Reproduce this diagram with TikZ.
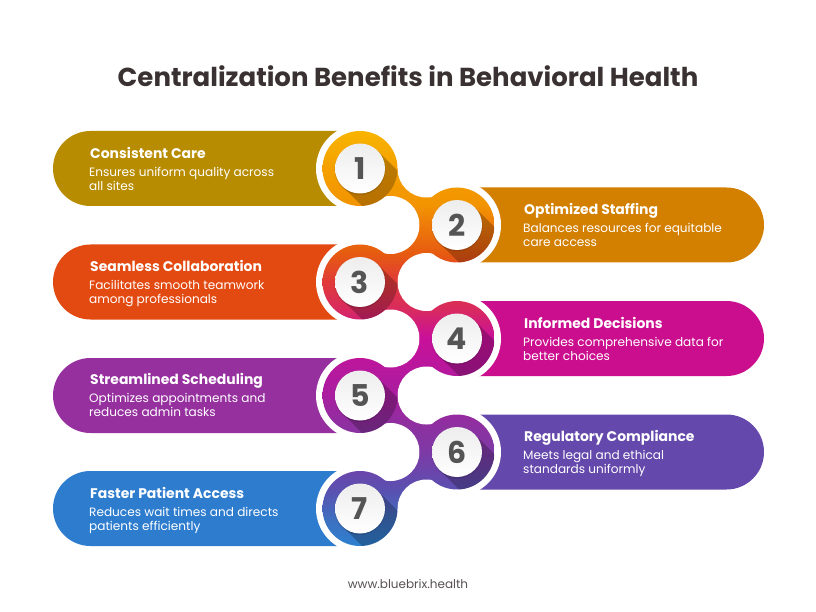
\documentclass[tikz,border=0pt]{standalone}
\usepackage{fontspec}
\setmainfont{Poppins}
\usetikzlibrary{calc}
\definecolor{c1}{HTML}{B88C00}
\definecolor{c2}{HTML}{D38000}
\definecolor{c3}{HTML}{E34A12}
\definecolor{c4}{HTML}{CB0E8E}
\definecolor{c5}{HTML}{96309F}
\definecolor{c6}{HTML}{6448AB}
\definecolor{c7}{HTML}{2D7CCE}
\definecolor{ttl}{HTML}{3A3232}
\definecolor{dgt}{HTML}{555555}
\definecolor{sa}{HTML}{F8B400}
\definecolor{sb}{HTML}{F5A000}
\definecolor{sc}{HTML}{F29400}
\definecolor{sd}{HTML}{EE7B0A}
\definecolor{se}{HTML}{E65A10}
\definecolor{sf}{HTML}{E03A3A}
\definecolor{sg}{HTML}{D82A60}
\definecolor{sh}{HTML}{C9109A}
\definecolor{si}{HTML}{A91E9F}
\definecolor{sj}{HTML}{8E30A0}
\definecolor{sk}{HTML}{7D3AA6}
\definecolor{sl}{HTML}{5A50B0}
\definecolor{sm}{HTML}{3E70C0}
\definecolor{sn}{HTML}{2D80CF}
% TikZ maps a path's bounding box to the middle half of the shading, so the stops span 25bp..75bp
\pgfdeclareverticalshading{chainshade}{100bp}{
 color(0bp)=(sn);
 color(25bp)=(sn);
 color(28.15bp)=(sm);
 color(31.75bp)=(sl);
 color(36.35bp)=(sk);
 color(39.6bp)=(sj);
 color(43.2bp)=(si);
 color(50.1bp)=(sh);
 color(53.45bp)=(sg);
 color(56.8bp)=(sf);
 color(60.2bp)=(se);
 color(63.7bp)=(sd);
 color(66.1bp)=(sc);
 color(70.55bp)=(sb);
 color(75bp)=(sa);
 color(100bp)=(sa)}
\tikzset{
 ttlstyle/.style={font=\bfseries\fontsize{26}{30}\selectfont,text=ttl,inner sep=0pt},
 head/.style={anchor=base west,font=\bfseries\fontsize{13.95}{15}\selectfont,text=white,inner sep=0pt},
 body/.style={anchor=north west,font=\fontsize{12.1}{14}\selectfont,text=white,inner sep=0pt,align=left},
 disc/.style={circle,minimum size=50pt,inner sep=0pt,top color=black!7,bottom color=white,
   font=\bfseries\fontsize{30}{30}\selectfont,text=dgt},
 foot/.style={font=\fontsize{12}{14}\selectfont,text=ttl!85!white,inner sep=0pt},
 longshadow/.style={fill=black,fill opacity=.24},
 discshadow/.style={fill=black,fill opacity=.12}
}
\newcommand{\bstrut}{\rule{0pt}{9pt}}
\begin{document}
\begin{tikzpicture}[x=1pt,y=-1pt]
\useasboundingbox (0,0) rectangle (816,612);
\fill[white] (0,0) rectangle (816,612);
\node[ttlstyle] (title) at (408,76) {Centralization Benefits in Behavioral Health};
\def\R{37.5}
% banners
\foreach \yy/\cc in {168.5/c1,282/c3,395.5/c5,508.5/c7}{
 \fill[\cc] (360,\yy-\R) -- (90.5,\yy-\R) arc[start angle=-90,end angle=-270,radius=\R] -- (360,\yy+\R) -- cycle;
 \fill[white] (360,\yy) circle (44);
}
\foreach \yy/\cc in {225/c2,338.5/c4,452/c6}{
 \fill[\cc] (457,\yy-\R) -- (726.5,\yy-\R) arc[start angle=-90,end angle=90,radius=\R] -- (457,\yy+\R) -- cycle;
 \fill[white] (457,\yy) circle (44);
}
% connector bands between the rings
\begin{scope}
 \clip (360,168.5) -- (426.5,168.5) -- (457,225) -- (390.5,225) -- cycle
       (390.5,225) -- (457,225) -- (426.5,282) -- (360,282) -- cycle
       (360,282) -- (426.5,282) -- (457,338.5) -- (390.5,338.5) -- cycle
       (390.5,338.5) -- (457,338.5) -- (426.5,395.5) -- (360,395.5) -- cycle
       (360,395.5) -- (426.5,395.5) -- (457,452) -- (390.5,452) -- cycle
       (390.5,452) -- (457,452) -- (426.5,508.5) -- (360,508.5) -- cycle;
 \shade[shading=chainshade] (300,131) rectangle (520,546);
\end{scope}
% white fillets
\foreach \xx/\yy in {426.5/168.5,390.5/225,426.5/282,390.5/338.5,426.5/395.5,390.5/452,426.5/508.5}{
 \fill[white] (\xx,\yy) circle (29);
}
% rings
\begin{scope}
 \clip (360,168.5) circle (\R) (457,225) circle (\R) (360,282) circle (\R) (457,338.5) circle (\R)
       (360,395.5) circle (\R) (457,452) circle (\R) (360,508.5) circle (\R);
 \shade[shading=chainshade] (300,131) rectangle (520,546);
\end{scope}
% long shadows and discs
\foreach \xx/\yy/\nn in {360/168.5/1,457/225/2,360/282/3,457/338.5/4,360/395.5/5,457/452/6,360/508.5/7}{
 \begin{scope}
  \clip (\xx,\yy) circle (\R);
  \fill[longshadow] (\xx+17.7,\yy-17.7) -- (\xx+57.7,\yy+22.3) -- (\xx+22.3,\yy+57.7) -- (\xx-17.7,\yy+17.7) -- cycle;
 \end{scope}
 \fill[discshadow] (\xx,\yy+1) circle (25.5);
 \node[disc] (d\nn) at (\xx,\yy) {\nn};
}
% left texts
\node[head] (h1) at (90,158.5) {Consistent Care};
\node[body] (b1) at (89,167) {\bstrut Ensures uniform quality across\\all sites};
\node[head] (h3) at (90,271.5) {Seamless Collaboration};
\node[body] (b3) at (89,280) {\bstrut Facilitates smooth teamwork\\among professionals};
\node[head] (h5) at (90,384.5) {Streamlined Scheduling};
\node[body] (b5) at (89,393.5) {\bstrut Optimizes appointments and\\reduces admin tasks};
\node[head] (h7) at (90,498) {Faster Patient Access};
\node[body] (b7) at (89,507) {\bstrut Reduces wait times and directs\\patients efficiently};
% right texts
\node[head] (h2) at (524,214.5) {Optimized Staffing};
\node[body] (b2) at (523,223) {\bstrut Balances resources for equitable\\care access};
\node[head] (h4) at (524,328) {Informed Decisions};
\node[body] (b4) at (523,337) {\bstrut Provides comprehensive data for\\better choices};
\node[head] (h6) at (524,441.5) {Regulatory Compliance};
\node[body] (b6) at (523,450.5) {\bstrut Meets legal and ethical\\standards uniformly};
\node[foot] (url) at (408,584) {www.bluebrix.health};
\end{tikzpicture}
\end{document}
